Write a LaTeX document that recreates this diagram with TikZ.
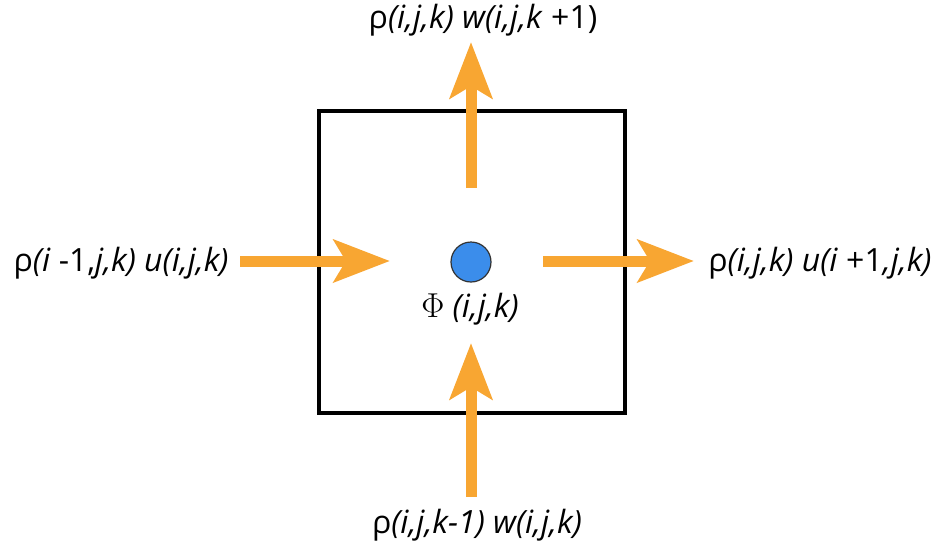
\documentclass[tikz,border=0pt]{standalone}
\usepackage{fontspec}
\setmainfont{Open Sans}
\usetikzlibrary{arrows.meta}
\definecolor{fluxorange}{HTML}{F8A632}
\definecolor{cellblue}{HTML}{3B8DEB}
\tikzset{
	flux/.style={draw=fluxorange, line width=5.5pt, -{Stealth[length=28pt, width=21pt, inset=6pt]}},
	fluxlabel/.style={inner sep=0pt}
}
\begin{document}
\begin{tikzpicture}[x=0.5pt, y=-0.5pt]
		\tikzstyle{every node}=[font=\fontsize{16pt}{19pt}\selectfont]
		\useasboundingbox (0,0) rectangle (934,548);
		
		% cell
		\draw[line width=2.4pt] (319,111) rectangle (625,413);
		\node[circle, draw=black!80, line width=0.6pt, fill=cellblue, minimum size=20pt, inner sep=0pt] (phi) at (471,262) {};
		\node[fluxlabel] (philabel) at (470,309) {{\fontsize{19pt}{22pt}\selectfont$\Phi$} \textit{(i,j,k)}};
		
		% flux labels
		\node[fluxlabel] (top) at (483,20) {ρ\textit{(i,j,k) w(i,j,k} +1)};
		\node[fluxlabel, anchor=east] (left) at (229,263) {ρ\textit{(i} -1,\textit{j,k) u(i,j,k)}};
		\node[fluxlabel, anchor=west] (right) at (708,263) {ρ\textit{(i,j,k) u(i} +1\textit{,j,k)}};
		\node[fluxlabel] (bottom) at (477,525) {ρ\textit{(i,j,k-1) w(i,j,k)}};
		
		% arrow ends
		\coordinate (topin) at (471,188);
		\coordinate (topout) at (471,42);
		\coordinate (botin) at (471,497);
		\coordinate (botout) at (471,343);
		\coordinate (leftin) at (240,261);
		\coordinate (leftout) at (390,261);
		\coordinate (rightin) at (543,261);
		\coordinate (rightout) at (694,261);
		
		\draw[flux] (topin) -- (topout);
		\draw[flux] (botin) -- (botout);
		\draw[flux] (leftin) -- (leftout);
		\draw[flux] (rightin) -- (rightout);
		
	\end{tikzpicture}
\end{document}
